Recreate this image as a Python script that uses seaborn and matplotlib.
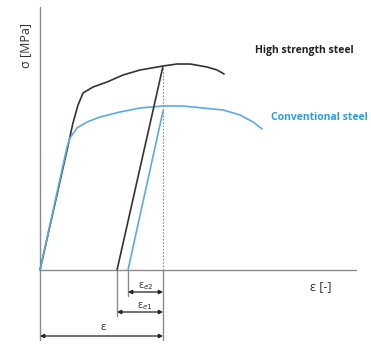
import numpy as np
import pandas as pd
import matplotlib
import matplotlib.pyplot as plt
import seaborn as sns

sns.set_style("white")
plt.rcParams["font.family"] = ["Open Sans", "DejaVu Sans"]

# stress-strain curves (arbitrary units: strain %, stress MPa)
HS_STRAIN = [0.0, 2.20, 2.68, 3.09, 3.50, 4.31, 5.45, 6.75, 8.13, 10.0,
             11.14, 12.20, 13.58, 14.39, 14.96]
HS_STRESS = [0, 600, 735, 825, 885, 915, 940, 975, 1000, 1020,
             1030, 1030, 1015, 1000, 980]

CS_STRAIN = [0.0, 2.20, 2.44, 3.01, 3.82, 4.88, 6.50, 8.13, 10.0, 11.63,
             13.25, 14.88, 16.26, 17.32, 18.05]
CS_STRESS = [0, 615, 660, 710, 740, 765, 790, 810, 820, 820,
             810, 800, 775, 740, 705]

# unloading lines: peak -> plastic strain at zero stress
TOTAL_STRAIN = 10.0
HS_PLASTIC = 6.26
CS_PLASTIC = 7.15
HS_PEAK = 1020
CS_PEAK = 795

BLACK = "#333333"
BLUE = "#5aaae8"
GREY = "#8a8a8a"

fig = plt.figure(figsize=(3.71, 3.44), dpi=100)
ax = fig.add_axes([0, 0, 1, 1])
ax.set_xlim(-3.25, 26.9)
ax.set_ylim(-370, 1350)
ax.axis("off")

# axes
ax.plot([0, 0], [-350, 1315], color=GREY, lw=1.0)
ax.plot([0, 25.7], [0, 0], color=GREY, lw=1.0)

hs = pd.DataFrame({"strain": HS_STRAIN, "stress": HS_STRESS})
cs = pd.DataFrame({"strain": CS_STRAIN, "stress": CS_STRESS})
sns.lineplot(data=hs, x="strain", y="stress", sort=False, color=BLACK, lw=1.2, ax=ax)
sns.lineplot(data=cs, x="strain", y="stress", sort=False, color=BLUE, lw=1.2, ax=ax)
ax.plot([TOTAL_STRAIN, HS_PLASTIC], [HS_PEAK, 0], color=BLACK, lw=1.2)
ax.plot([TOTAL_STRAIN, CS_PLASTIC], [CS_PEAK, 0], color=BLUE, lw=1.2)

# dotted guide from peak down to axis
ax.plot([TOTAL_STRAIN, TOTAL_STRAIN], [0, HS_PEAK], color=GREY, lw=0.8, ls=(0, (1.5, 1.5)))

# dimension lines
ax.plot([TOTAL_STRAIN, TOTAL_STRAIN], [0, -350], color=GREY, lw=1.0)
ax.plot([HS_PLASTIC, HS_PLASTIC], [0, -230], color=GREY, lw=1.0)
ax.plot([CS_PLASTIC, CS_PLASTIC], [0, -130], color=GREY, lw=1.0)

arrow = dict(arrowstyle="<|-|>", color="#222222", lw=0.9, mutation_scale=6,
             shrinkA=0, shrinkB=0)
ax.annotate("", xy=(CS_PLASTIC, -110), xytext=(TOTAL_STRAIN, -110), arrowprops=arrow)
ax.annotate("", xy=(HS_PLASTIC, -210), xytext=(TOTAL_STRAIN, -210), arrowprops=arrow)
ax.annotate("", xy=(0, -330), xytext=(TOTAL_STRAIN, -330), arrowprops=arrow)

ax.text(8.55, -80, r"ε$_{e2}$", fontsize=7.5, ha="center", va="center", color="#333333")
ax.text(8.55, -180, r"ε$_{e1}$", fontsize=7.5, ha="center", va="center", color="#333333")
ax.text(5.1, -290, "ε", fontsize=8, ha="center", va="center", color="#333333")

ax.text(22.8, -85, "ε [-]", fontsize=9, ha="center", va="center", color="#333333")
ax.text(-1.2, 1120, "σ [MPa]", fontsize=9, ha="center", va="center",
        rotation=90, color="#333333")

ax.text(21.5, 1100, "High strength steel", fontsize=7.5, fontweight="bold",
        ha="center", va="center", color="#222222")
ax.text(22.7, 765, "Conventional steel", fontsize=7.5, fontweight="bold",
        ha="center", va="center", color="#2a9de6")

fig.savefig("out.png", dpi=100)
